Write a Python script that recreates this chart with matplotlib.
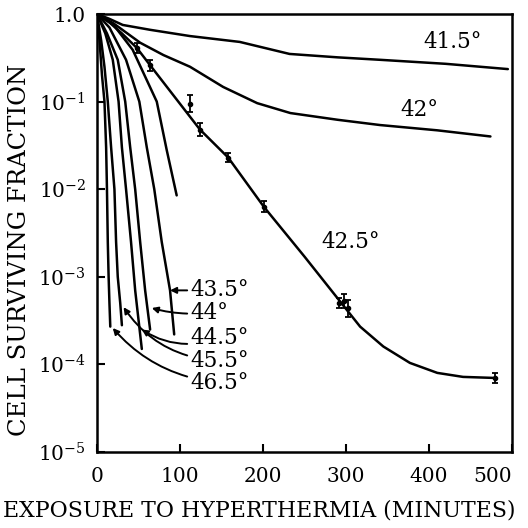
import numpy as np
import matplotlib
matplotlib.use("Agg")
import matplotlib.pyplot as plt

plt.rcParams['font.family'] = 'DejaVu Serif'
plt.rcParams['mathtext.fontset'] = 'dejavuserif'

# survival curves (minutes, surviving fraction)
t_415 = [0, 15, 31, 64, 112, 172, 232, 290, 341, 420, 495]
s_415 = [1.0, 0.88, 0.75, 0.66, 0.56, 0.48, 0.35, 0.32, 0.30, 0.27, 0.235]

t_42 = [0, 20, 52, 80, 112, 152, 193, 233, 290, 341, 410, 474]
s_42 = [1.0, 0.78, 0.47, 0.34, 0.25, 0.147, 0.096, 0.074, 0.062, 0.054, 0.047, 0.04]

t_425 = [0, 15, 30, 48, 64, 124, 158, 201, 250, 296, 317, 345, 377, 410, 441, 480]
s_425 = [1.0, 0.8, 0.6, 0.41, 0.26, 0.048, 0.023, 6.3e-3, 1.7e-3, 4.8e-4,
         2.7e-4, 1.6e-4, 1.04e-4, 8e-5, 7.2e-5, 7e-5]

t_43 = [0, 20, 43, 72, 84, 96]
s_43 = [1.0, 0.75, 0.39, 0.1, 0.028, 8.5e-3]

t_435 = [0, 15, 35, 51, 60, 69, 78, 88, 93]
s_435 = [1.0, 0.7, 0.3, 0.1, 0.03, 0.01, 2.5e-3, 7e-4, 2.2e-4]

t_44 = [0, 12, 25, 34, 40, 46, 52, 58, 64]
s_44 = [1.0, 0.6, 0.3, 0.1, 0.03, 0.01, 2.5e-3, 7e-4, 2.5e-4]

t_445 = [0, 10, 19, 26, 30, 35, 41, 46, 54]
s_445 = [1.0, 0.6, 0.3, 0.1, 0.03, 0.01, 2.5e-3, 7e-4, 1.5e-4]

t_455 = [0, 5, 9, 13, 17, 21, 23, 25, 28, 30]
s_455 = [1.0, 0.5, 0.25, 0.1, 0.03, 0.01, 2.5e-3, 1e-3, 5e-4, 2.8e-4]

t_465 = [0, 3, 6, 9, 11, 12, 13, 14, 15, 16]
s_465 = [1.0, 0.5, 0.2, 0.1, 0.03, 0.01, 2.5e-3, 1e-3, 5e-4, 2.7e-4]

# measured points with error bars on the 42.5 curve
eb_t = [48, 64, 112, 124, 158, 201, 292, 298, 302, 480]
eb_s = [0.41, 0.26, 0.094, 0.048, 0.023, 6.3e-3, 5.0e-4, 5.3e-4, 4.4e-4, 7e-5]
eb_f = [1.15, 1.15, 1.25, 1.2, 1.12, 1.15, 1.15, 1.2, 1.25, 1.15]

xticks = [0, 100, 200, 300, 400, 500]
yticks = [1e-5, 1e-4, 1e-3, 1e-2, 1e-1, 1.0]
ylabels = ['$10^{-5}$', '$10^{-4}$', '$10^{-3}$', '$10^{-2}$', '$10^{-1}$', '1.0']

fig = plt.figure(figsize=(5.28, 5.28), dpi=100)
ax = fig.add_axes([97/528, 1-452/528, 415/528, 438/528])
ax.set_yscale('log')

lw = 1.8
for t, s in [(t_415, s_415), (t_42, s_42), (t_425, s_425), (t_43, s_43),
             (t_435, s_435), (t_44, s_44), (t_445, s_445), (t_455, s_455),
             (t_465, s_465)]:
    ax.plot(t, s, color='black', lw=lw, solid_capstyle='round')

eb_s = np.array(eb_s)
eb_f = np.array(eb_f)
ax.errorbar(eb_t, eb_s, yerr=[eb_s - eb_s/eb_f, eb_s*eb_f - eb_s], fmt='o',
            ms=3, color='black', ecolor='black', elinewidth=1.3, capsize=2.5,
            capthick=1.3)

ax.set_xlim(0, 500)
ax.set_ylim(1e-5, 1.0)
ax.set_xticks(xticks)
ax.set_xticklabels([str(v) for v in xticks])
ax.set_yticks(yticks)
ax.set_yticklabels(ylabels)
ax.minorticks_off()
ax.tick_params(direction='in', length=6, width=1.5, labelsize=14.5)
ax.tick_params(axis='x', pad=11)
ax.tick_params(axis='y', pad=8)
for sp in ax.spines.values():
    sp.set_linewidth(1.8)

fs = 15.5
ax.text(428, 0.48, '41.5°', fontsize=fs, ha='center', va='center')
ax.text(389, 0.08, '42°', fontsize=fs, ha='center', va='center')
ax.text(305, 2.5e-3, '42.5°', fontsize=fs, ha='center', va='center')

arrow = dict(arrowstyle='-|>', color='black', lw=1.4, mutation_scale=9)
ax.annotate('43.5°', xy=(88, 7e-4), xytext=(112, 7e-4), fontsize=fs,
            va='center', arrowprops=dict(arrow, shrinkA=0, shrinkB=0))
ax.annotate('44°', xy=(66, 4.4e-4), xytext=(112, 3.9e-4), fontsize=fs,
            va='center', arrowprops=dict(arrow, shrinkA=0, shrinkB=0,
                                         connectionstyle='arc3,rad=-0.1'))
ax.annotate('44.5°', xy=(54, 2.5e-4), xytext=(112, 2.0e-4), fontsize=fs,
            va='center', arrowprops=dict(arrow, shrinkA=0, shrinkB=0,
                                         connectionstyle='arc3,rad=-0.25'))
ax.annotate('45.5°', xy=(32, 4.5e-4), xytext=(112, 1.1e-4), fontsize=fs,
            va='center', arrowprops=dict(arrow, shrinkA=0, shrinkB=0,
                                         connectionstyle='arc3,rad=-0.25'))
ax.annotate('46.5°', xy=(19, 2.6e-4), xytext=(112, 6.2e-5), fontsize=fs,
            va='center', arrowprops=dict(arrow, shrinkA=0, shrinkB=0,
                                         connectionstyle='arc3,rad=-0.2'))

fig.text(259/528, 1-510/528, 'EXPOSURE TO HYPERTHERMIA (MINUTES)',
         fontsize=15.8, ha='center', va='center')
fig.text(20/528, 1-250/528, 'CELL SURVIVING FRACTION', fontsize=17.5,
         ha='center', va='center', rotation=90)

# draw once so the tick label objects exist, then right-align the last one
fig.canvas.draw()
ax.get_xticklabels()[-1].set_horizontalalignment('right')

fig.savefig('out.png', dpi=100)
